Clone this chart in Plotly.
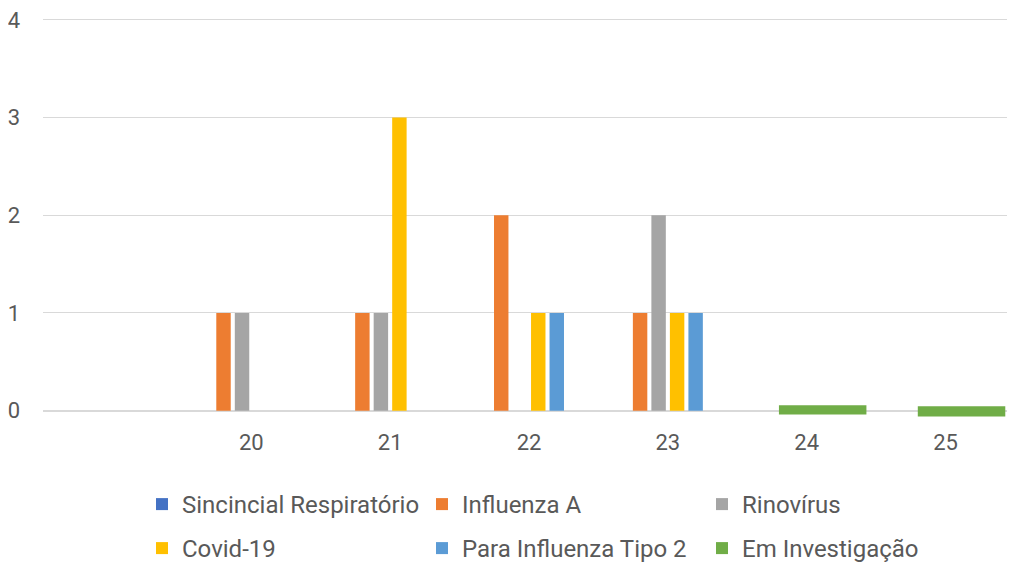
import plotly.graph_objects as go

weeks = [19, 20, 21, 22, 23, 24, 25]
week_labels = ["20", "21", "22", "23", "24", "25"]
week_ticks = [20, 21, 22, 23, 24, 25]

sincicial = [0, 0, 0, 0, 0, 0, 0]
influenza_a = [0, 1, 1, 2, 1, 0, 0]
rinovirus = [0, 1, 1, 0, 2, 0, 0]
covid19 = [0, 0, 3, 1, 1, 0, 0]
para_influenza2 = [0, 0, 0, 1, 1, 0, 0]
em_investigacao = [0, 0, 0, 0, 0, 0, 0]

# wide green markers drawn across the zero line at weeks 24 and 25
em_invest_weeks = [24, 25]
em_invest_top = [0.056, 0.046]
em_invest_base = [-0.04, -0.061]

series = [
    ("Sincincial Respiratório", sincicial, "#4472C4", "legend"),
    ("Influenza A", influenza_a, "#ED7D31", "legend"),
    ("Rinovírus", rinovirus, "#A5A5A5", "legend"),
    ("Covid-19", covid19, "#FFC000", "legend2"),
    ("Para Influenza Tipo 2", para_influenza2, "#5B9BD5", "legend2"),
]

fig = go.Figure()
for name, vals, color, leg in series:
    fig.add_trace(go.Bar(x=weeks, y=vals, name=name, marker_color=color,
                         marker_line_width=0, legend=leg))

# Em Investigação keeps its slot in the cluster (zero values)
fig.add_trace(go.Bar(x=weeks, y=em_investigacao, name="Em Investigação",
                     marker_color="#70AD47", marker_line_width=0,
                     legendgroup="emi", showlegend=False, legend="legend2"))

fig.add_trace(go.Bar(
    x=em_invest_weeks,
    y=[t - b for t, b in zip(em_invest_top, em_invest_base)],
    base=em_invest_base,
    width=0.63, offset=-0.2,
    name="Em Investigação", marker_color="#70AD47", marker_line_width=0,
    xaxis="x2", legendgroup="emi", legend="legend2"))

font_family = "Roboto, 'Liberation Sans', sans-serif"
tick_font = dict(family=font_family, size=22, color="#595959")
legend_font = dict(family=font_family, size=24, color="#595959")

W, H = 1007, 555  # page body has an 8px margin

fig.update_layout(
    width=W, height=H,
    margin=dict(l=35, r=0, t=3, b=146),
    paper_bgcolor="white", plot_bgcolor="white",
    barmode="group", bargap=0.2, bargroupgap=0.22,
    xaxis=dict(range=[18.5, 25.5], tickvals=week_ticks, ticktext=week_labels,
               showgrid=False, zeroline=False, showline=False, ticks="",
               tickfont=tick_font, ticklabelstandoff=10),
    xaxis2=dict(range=[18.5, 25.5], overlaying="x", visible=False),
    yaxis=dict(range=[-0.065, 4.03], tickvals=[0, 1, 2, 3, 4],
               showgrid=True, gridcolor="#D9D9D9", gridwidth=1.3,
               zeroline=True, zerolinecolor="#D9D9D9", zerolinewidth=1.6,
               showline=False, ticks="", tickfont=tick_font,
               ticklabelstandoff=22, ticklabeloverflow="allow"),
    legend=dict(orientation="h", xref="container", yref="container",
                x=134 / W, y=(H - 474) / H, xanchor="left", yanchor="top",
                entrywidth=235, entrywidthmode="pixels", font=legend_font,
                traceorder="normal", bgcolor="rgba(0,0,0,0)"),
    legend2=dict(orientation="h", xref="container", yref="container",
                 x=134 / W, y=(H - 518) / H, xanchor="left", yanchor="top",
                 entrywidth=235, entrywidthmode="pixels", font=legend_font,
                 traceorder="normal", bgcolor="rgba(0,0,0,0)"),
)

fig.write_html("out.html")
